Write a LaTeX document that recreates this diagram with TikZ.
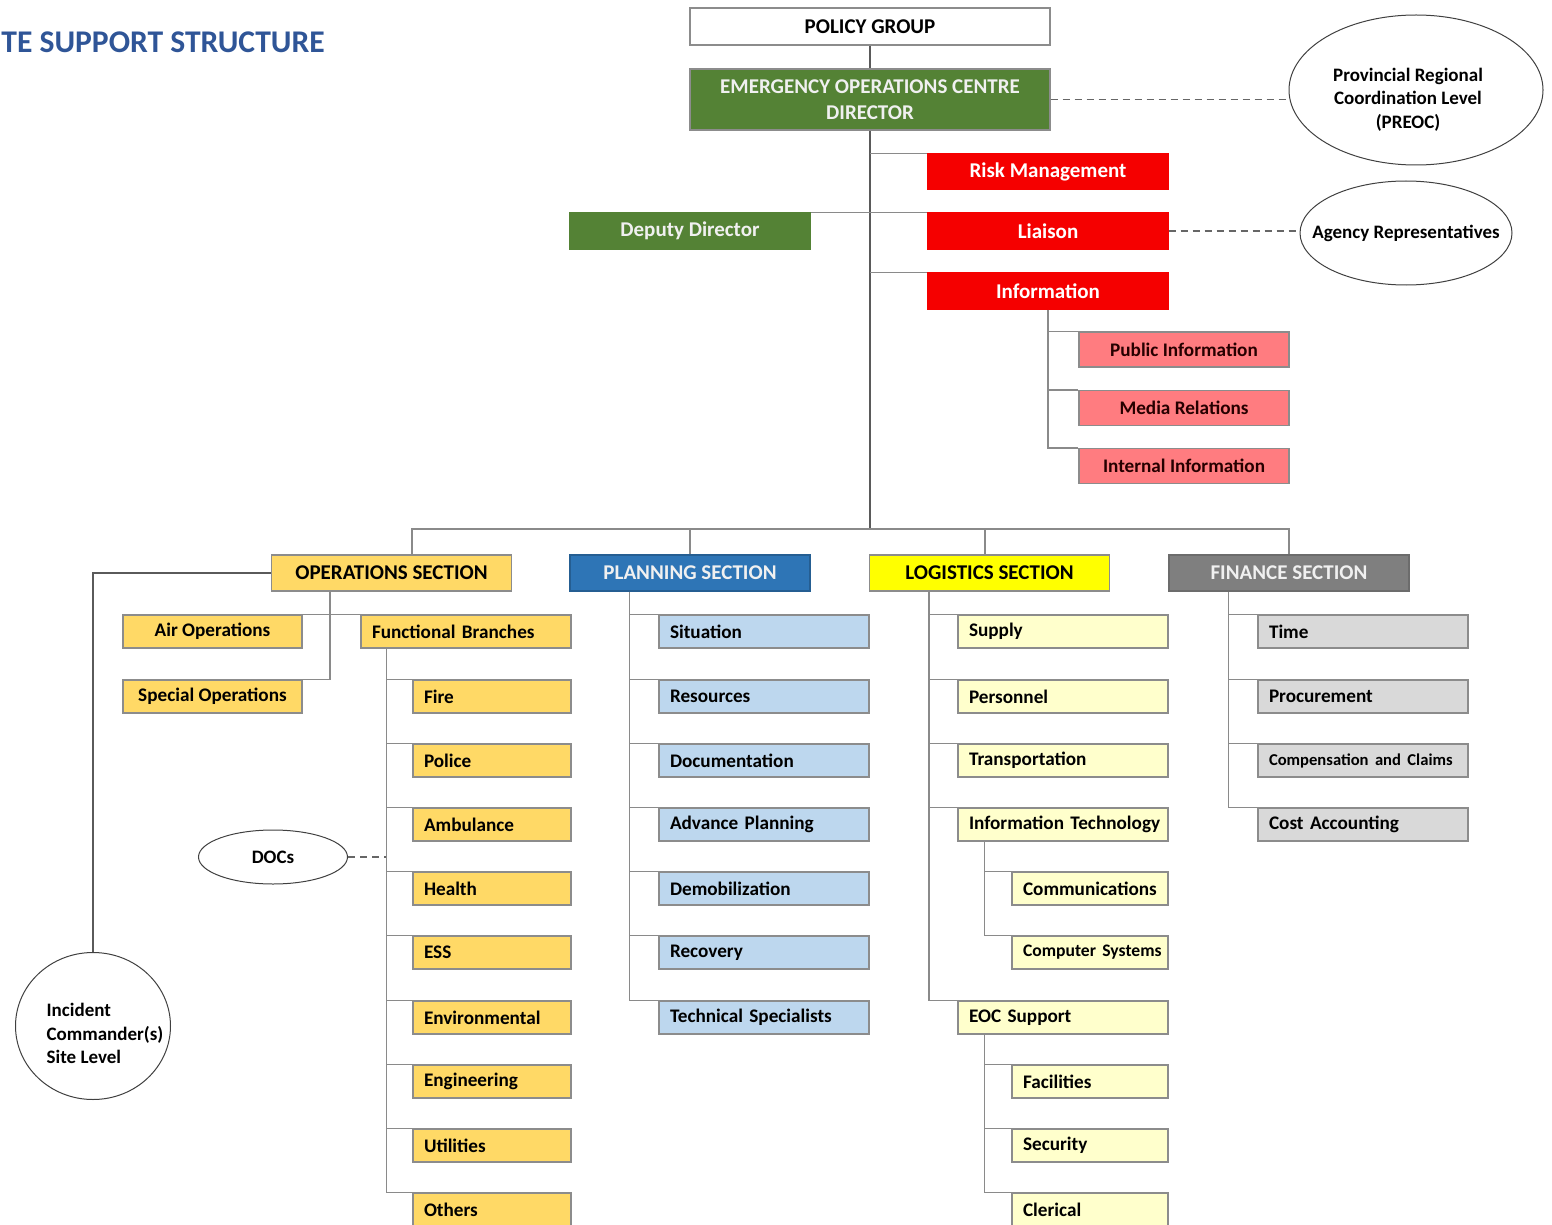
\documentclass[tikz,border=0pt]{standalone}
\usepackage{fontspec}
\setmainfont{Carlito}
\usetikzlibrary{shapes.geometric,calc}
\definecolor{eocgreen}{HTML}{548235}
\definecolor{redbox}{HTML}{F50000}
\definecolor{pinkbox}{HTML}{FF7C80}
\definecolor{goldbox}{HTML}{FFD966}
\definecolor{bluebox}{HTML}{2E75B6}
\definecolor{yellowbox}{HTML}{FFFF00}
\definecolor{graybox}{HTML}{7F7F7F}
\definecolor{ltblue}{HTML}{BDD7EE}
\definecolor{ltyellow}{HTML}{FFFFCC}
\definecolor{ltgray}{HTML}{D9D9D9}
\definecolor{titleblue}{HTML}{2F5597}
\definecolor{boxline}{HTML}{8C8C8C}
\definecolor{connline}{HTML}{8A8A8A}
\definecolor{trunkline}{HTML}{5A5A5A}
\definecolor{lighttext}{HTML}{F0F0F0}
\tikzset{
  base/.style={draw=boxline, line width=0.6pt, inner ysep=0pt, inner xsep=5.5pt,
               font=\bfseries\fontsize{9.6}{12}\selectfont, text=black},
  hdr/.style={base, minimum width=120pt, minimum height=18pt,
              font=\bfseries\fontsize{10.5}{12.5}\selectfont},
  wide/.style={base, minimum height=16.5pt, text width=94pt, align=left},
  narrow/.style={base, minimum height=16.5pt, text width=68pt, align=left},
  sub/.style={base, minimum height=16.5pt, text width=67pt, align=left},
  pinkitem/.style={base, fill=pinkbox, minimum width=105pt, minimum height=17.5pt, text=black!85!red},
  oval/.style={ellipse, draw=black!75, line width=0.5pt, inner sep=0pt,
               font=\bfseries\fontsize{9.5}{11.8}\selectfont, align=center},
  conn/.style={draw=connline, line width=0.75pt},
  trunk/.style={draw=trunkline, line width=0.8pt},
  dashlink/.style={draw=black!60, line width=0.7pt, dash pattern=on 3.5pt off 2.5pt},
}
\begin{document}
\begin{tikzpicture}[x=0.5pt,y=-0.5pt]
\useasboundingbox (0,0) rectangle (1552,1225);

% title
\node[anchor=west, inner sep=0pt, text=titleblue, font=\bfseries\fontsize{15.8}{18}\selectfont] (title) at (1,42) {TE SUPPORT STRUCTURE};

% top part
\node[base, fill=white, minimum width=180pt, minimum height=18.5pt, font=\bfseries\fontsize{10.5}{12.5}\selectfont] (policy) at (870,26.5) {POLICY GROUP};
\node[base, fill=eocgreen, text=lighttext, minimum width=180pt, minimum height=30.5pt, align=center, font=\bfseries\fontsize{10.5}{13}\selectfont] (eoc) at (870,99.5) {EMERGENCY OPERATIONS CENTRE\\DIRECTOR};
\node[hdr, fill=redbox, draw=redbox, text=white, minimum height=17.5pt] (risk) at (1048,171.5) {Risk Management};
\node[hdr, fill=eocgreen, draw=eocgreen, text=lighttext] (deputy) at (690,231) {Deputy Director};
\node[hdr, fill=redbox, draw=redbox, text=white] (liaison) at (1048,231) {Liaison};
\node[hdr, fill=redbox, draw=redbox, text=white] (info) at (1048,291) {Information};
\node[pinkitem] (pubinfo) at (1184,349.5) {Public Information};
\node[pinkitem] (media) at (1184,408) {Media Relations};
\node[pinkitem] (internal) at (1184,466) {Internal Information};

\node[oval, minimum width=127pt, minimum height=75pt] (preoc) at (1416,90)
  {\raisebox{-7.3pt}[0pt][0pt]{\makebox[0pt]{\hspace{-8pt}\begin{tabular}{@{}c@{}}Provincial Regional\\Coordination Level\\(PREOC)\end{tabular}}}};
\node[oval, minimum width=106pt, minimum height=52pt] (agency) at (1406,233)
  {\makebox[0pt]{Agency Representatives}};

% sections
\node[hdr, fill=goldbox] (ops) at (391.5,573) {OPERATIONS SECTION};
\node[hdr, fill=bluebox, draw=bluebox!80!black, text=lighttext] (plan) at (690,573) {PLANNING SECTION};
\node[hdr, fill=yellowbox] (log) at (989.5,573) {LOGISTICS SECTION};
\node[hdr, fill=graybox, draw=graybox!85!black, text=lighttext] (fin) at (1289,573) {FINANCE SECTION};

% operations
\node[base, fill=goldbox, minimum width=89.5pt, minimum height=16.5pt] (air) at (212.5,631.5) {Air Operations};
\node[base, fill=goldbox, minimum width=89.5pt, minimum height=16.5pt] (special) at (212.5,696.5) {Special Operations};
\node[wide, fill=goldbox] (func) at (466,631.5) {Functional Branches};
\node[narrow, fill=goldbox] (fire) at (492,696.5) {Fire};
\node[narrow, fill=goldbox] (police) at (492,760.5) {Police};
\node[narrow, fill=goldbox] (amb) at (492,824.5) {Ambulance};
\node[narrow, fill=goldbox] (health) at (492,888.5) {Health};
\node[narrow, fill=goldbox] (ess) at (492,952.5) {ESS};
\node[narrow, fill=goldbox] (env) at (492,1017.5) {Environmental};
\node[narrow, fill=goldbox] (eng) at (492,1081.5) {Engineering};
\node[narrow, fill=goldbox] (util) at (492,1145.5) {Utilities};
\node[narrow, fill=goldbox] (others) at (492,1209.5) {Others};
\node[oval, minimum width=74.5pt, minimum height=27pt] (docs) at (273,857) {DOCs};
\node[oval, minimum width=77.5pt, minimum height=73.5pt] (incident) at (93,1026)
  {\raisebox{-7pt}[0pt][0pt]{\makebox[0pt]{\hspace{12pt}\begin{tabular}{@{}l@{}}Incident\\Commander(s)\\Site Level\end{tabular}}}};

% planning
\node[wide, fill=ltblue] (situation) at (764,631.5) {Situation};
\node[wide, fill=ltblue] (resources) at (764,696.5) {Resources};
\node[wide, fill=ltblue] (docu) at (764,760.5) {Documentation};
\node[wide, fill=ltblue] (advplan) at (764,824.5) {Advance Planning};
\node[wide, fill=ltblue] (demob) at (764,888.5) {Demobilization};
\node[wide, fill=ltblue] (recovery) at (764,952.5) {Recovery};
\node[wide, fill=ltblue] (techspec) at (764,1017.5) {Technical Specialists};

% logistics
\node[wide, fill=ltyellow] (supply) at (1063,631.5) {Supply};
\node[wide, fill=ltyellow] (personnel) at (1063,696.5) {Personnel};
\node[wide, fill=ltyellow] (transport) at (1063,760.5) {Transportation};
\node[wide, fill=ltyellow] (infotech) at (1063,824.5) {\mbox{Information Technology}};
\node[sub, fill=ltyellow] (comms) at (1090,888.5) {Communications};
\node[sub, fill=ltyellow] (compsys) at (1090,952.5) {\mbox{\fontsize{8.8}{11}\selectfont Computer Systems}};
\node[wide, fill=ltyellow] (eocsup) at (1063,1017.5) {EOC Support};
\node[sub, fill=ltyellow] (facilities) at (1090,1081.5) {Facilities};
\node[sub, fill=ltyellow] (security) at (1090,1145.5) {Security};
\node[sub, fill=ltyellow] (clerical) at (1090,1209.5) {Clerical};

% finance
\node[wide, fill=ltgray] (time) at (1363,631.5) {Time};
\node[wide, fill=ltgray] (procure) at (1363,696.5) {Procurement};
\node[wide, fill=ltgray] (comp) at (1363,760.5) {\mbox{\fontsize{8.3}{10}\selectfont Compensation and Claims}};
\node[wide, fill=ltgray] (cost) at (1363,824.5) {Cost Accounting};

% ---------- connectors ----------
\coordinate (busy) at (0,529);
\draw[trunk] (policy) -- (eoc);
\draw[trunk] (eoc.south) -- (eoc.south |- busy);
\draw[conn] (eoc.south |- risk.north) -- (risk.north west);
\draw[conn] (deputy.north east) -- (liaison.north west);
\draw[conn] (eoc.south |- info.north) -- (info.north west);
\draw[conn] (info.south) -- (info.south |- internal.north) -- (internal.north west);
\draw[conn] (info.south |- pubinfo.north) -- (pubinfo.north west);
\draw[conn] (info.south |- media.north) -- (media.north west);
\draw[dashlink] (eoc.east) -- (eoc.east -| preoc.west);
\draw[dashlink] (liaison.east) -- (liaison.east -| agency.west);

% bus
\coordinate (opsdrop) at ($(ops.north west)+(141,0)$);
\coordinate (logdrop) at ($(log.north west)+(116,0)$);
\draw[conn] (opsdrop) -- (opsdrop |- busy) -- (fin.north |- busy) -- (fin.north);
\draw[conn] (plan.north) -- (plan.north |- busy);
\draw[conn] (logdrop) -- (logdrop |- busy);

% operations connectors
\coordinate (opsv) at ($(ops.south west)+(59,0)$);
\draw[conn] (opsv) -- (opsv |- special.north) -- (special.north east);
\draw[conn] (air.north east) -- (func.north west);
\draw[trunk] (ops.west) -| (incident.north);
\coordinate (fv) at ($(func.south west)+(26,0)$);
\draw[conn] (fv) -- (fv |- others.north) -- (others.north west);
\foreach \n in {fire,police,amb,health,ess,env,eng,util}
  \draw[conn] (fv |- \n.north) -- (\n.north west);
\draw[dashlink] (docs.east) -- (docs.east -| fv);

% planning connectors
\coordinate (pv) at ($(plan.south west)+(60,0)$);
\draw[conn] (pv) -- (pv |- techspec.north) -- (techspec.north west);
\foreach \n in {situation,resources,docu,advplan,demob,recovery}
  \draw[conn] (pv |- \n.north) -- (\n.north west);

% logistics connectors
\coordinate (lv) at ($(log.south west)+(60,0)$);
\draw[conn] (lv) -- (lv |- eocsup.north) -- (eocsup.north west);
\foreach \n in {supply,personnel,transport,infotech}
  \draw[conn] (lv |- \n.north) -- (\n.north west);
\coordinate (itv) at ($(infotech.south west)+(27,0)$);
\draw[conn] (itv) -- (itv |- compsys.north) -- (compsys.north west);
\draw[conn] (itv |- comms.north) -- (comms.north west);
\coordinate (esv) at ($(eocsup.south west)+(27,0)$);
\draw[conn] (esv) -- (esv |- clerical.north) -- (clerical.north west);
\draw[conn] (esv |- facilities.north) -- (facilities.north west);
\draw[conn] (esv |- security.north) -- (security.north west);

% finance connectors
\coordinate (fnv) at ($(fin.south west)+(60,0)$);
\draw[conn] (fnv) -- (fnv |- cost.north) -- (cost.north west);
\foreach \n in {time,procure,comp}
  \draw[conn] (fnv |- \n.north) -- (\n.north west);
\end{tikzpicture}
\end{document}
